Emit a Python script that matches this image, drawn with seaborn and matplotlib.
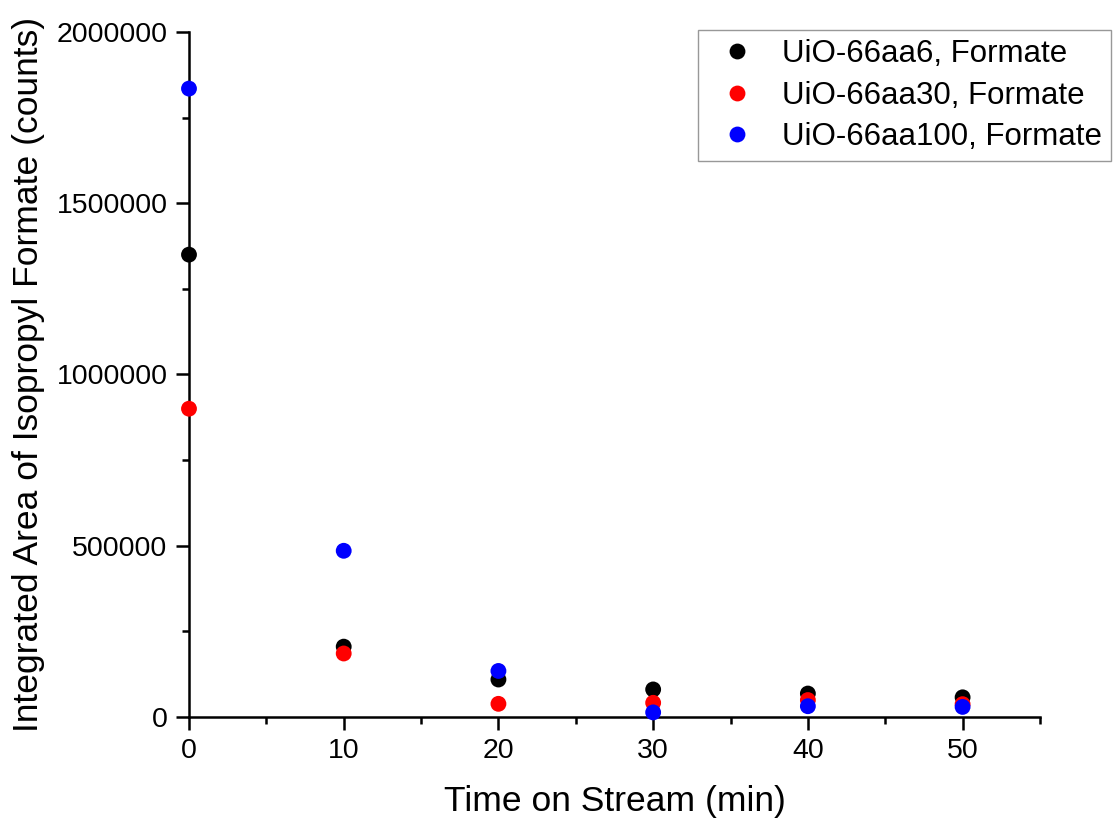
import matplotlib
matplotlib.use("Agg")
import matplotlib.pyplot as plt
from matplotlib.ticker import MultipleLocator
import seaborn as sns
import pandas as pd

# Time on stream (min)
time_min = [0, 10, 20, 30, 40, 50]

# Integrated peak area of isopropyl formate (counts) per catalyst
aa6_counts = [1350000, 205000, 109000, 80000, 68000, 57000]
aa30_counts = [900000, 185000, 38000, 41000, 49000, 37000]
aa100_counts = [1835000, 485000, 134000, 13000, 31000, 29000]

series_names = ["UiO-66aa6, Formate", "UiO-66aa30, Formate", "UiO-66aa100, Formate"]
series_colors = ["#000000", "#ff0000", "#0000ff"]

df = pd.concat(
    [
        pd.DataFrame({"time": time_min, "counts": vals, "sample": name})
        for name, vals in zip(series_names, [aa6_counts, aa30_counts, aa100_counts])
    ],
    ignore_index=True,
)

sns.set_style("ticks")
plt.rcParams["font.family"] = ["Liberation Sans", "DejaVu Sans"]
plt.rcParams["text.color"] = "black"
plt.rcParams["axes.labelcolor"] = "black"

fig = plt.figure(figsize=(11.15, 8.23), dpi=100)
ax = fig.add_axes([0.1695, 0.129, 0.7632, 0.832])

sns.scatterplot(
    data=df, x="time", y="counts", hue="sample",
    hue_order=series_names, palette=series_colors,
    s=130, linewidth=0, ax=ax, clip_on=False, zorder=3,
)

ax.set_xlim(0, 55)
ax.set_ylim(0, 2000000)
ax.xaxis.set_major_locator(MultipleLocator(10))
ax.xaxis.set_minor_locator(MultipleLocator(5))
ax.yaxis.set_major_locator(MultipleLocator(500000))
ax.yaxis.set_minor_locator(MultipleLocator(250000))
ax.ticklabel_format(axis="y", style="plain", useOffset=False)

for side in ["top", "right"]:
    ax.spines[side].set_visible(False)
for side in ["left", "bottom"]:
    ax.spines[side].set_linewidth(1.8)
    ax.spines[side].set_color("black")

ax.tick_params(which="major", direction="out", length=9.5, width=1.8,
               colors="black", pad=6, labelsize=20.5)
ax.tick_params(which="minor", direction="out", length=5, width=1.8, colors="black")

ax.set_xlabel("Time on Stream (min)", fontsize=25.5, labelpad=15)
ax.set_ylabel("Integrated Area of Isopropyl Formate (counts)", fontsize=25.5, labelpad=8)

leg = ax.legend(
    loc="upper left", bbox_to_anchor=(0.626, 0.9635), bbox_transform=fig.transFigure,
    fontsize=22.5, frameon=True, fancybox=False, handletextpad=0.48,
    markerscale=1.0, labelspacing=0.36, borderpad=0.3, handlelength=1.9,
    borderaxespad=0,
)
leg.get_frame().set_edgecolor("#7f7f7f")
leg.get_frame().set_linewidth(1.0)

fig.savefig("out.png", dpi=100, facecolor="white")
